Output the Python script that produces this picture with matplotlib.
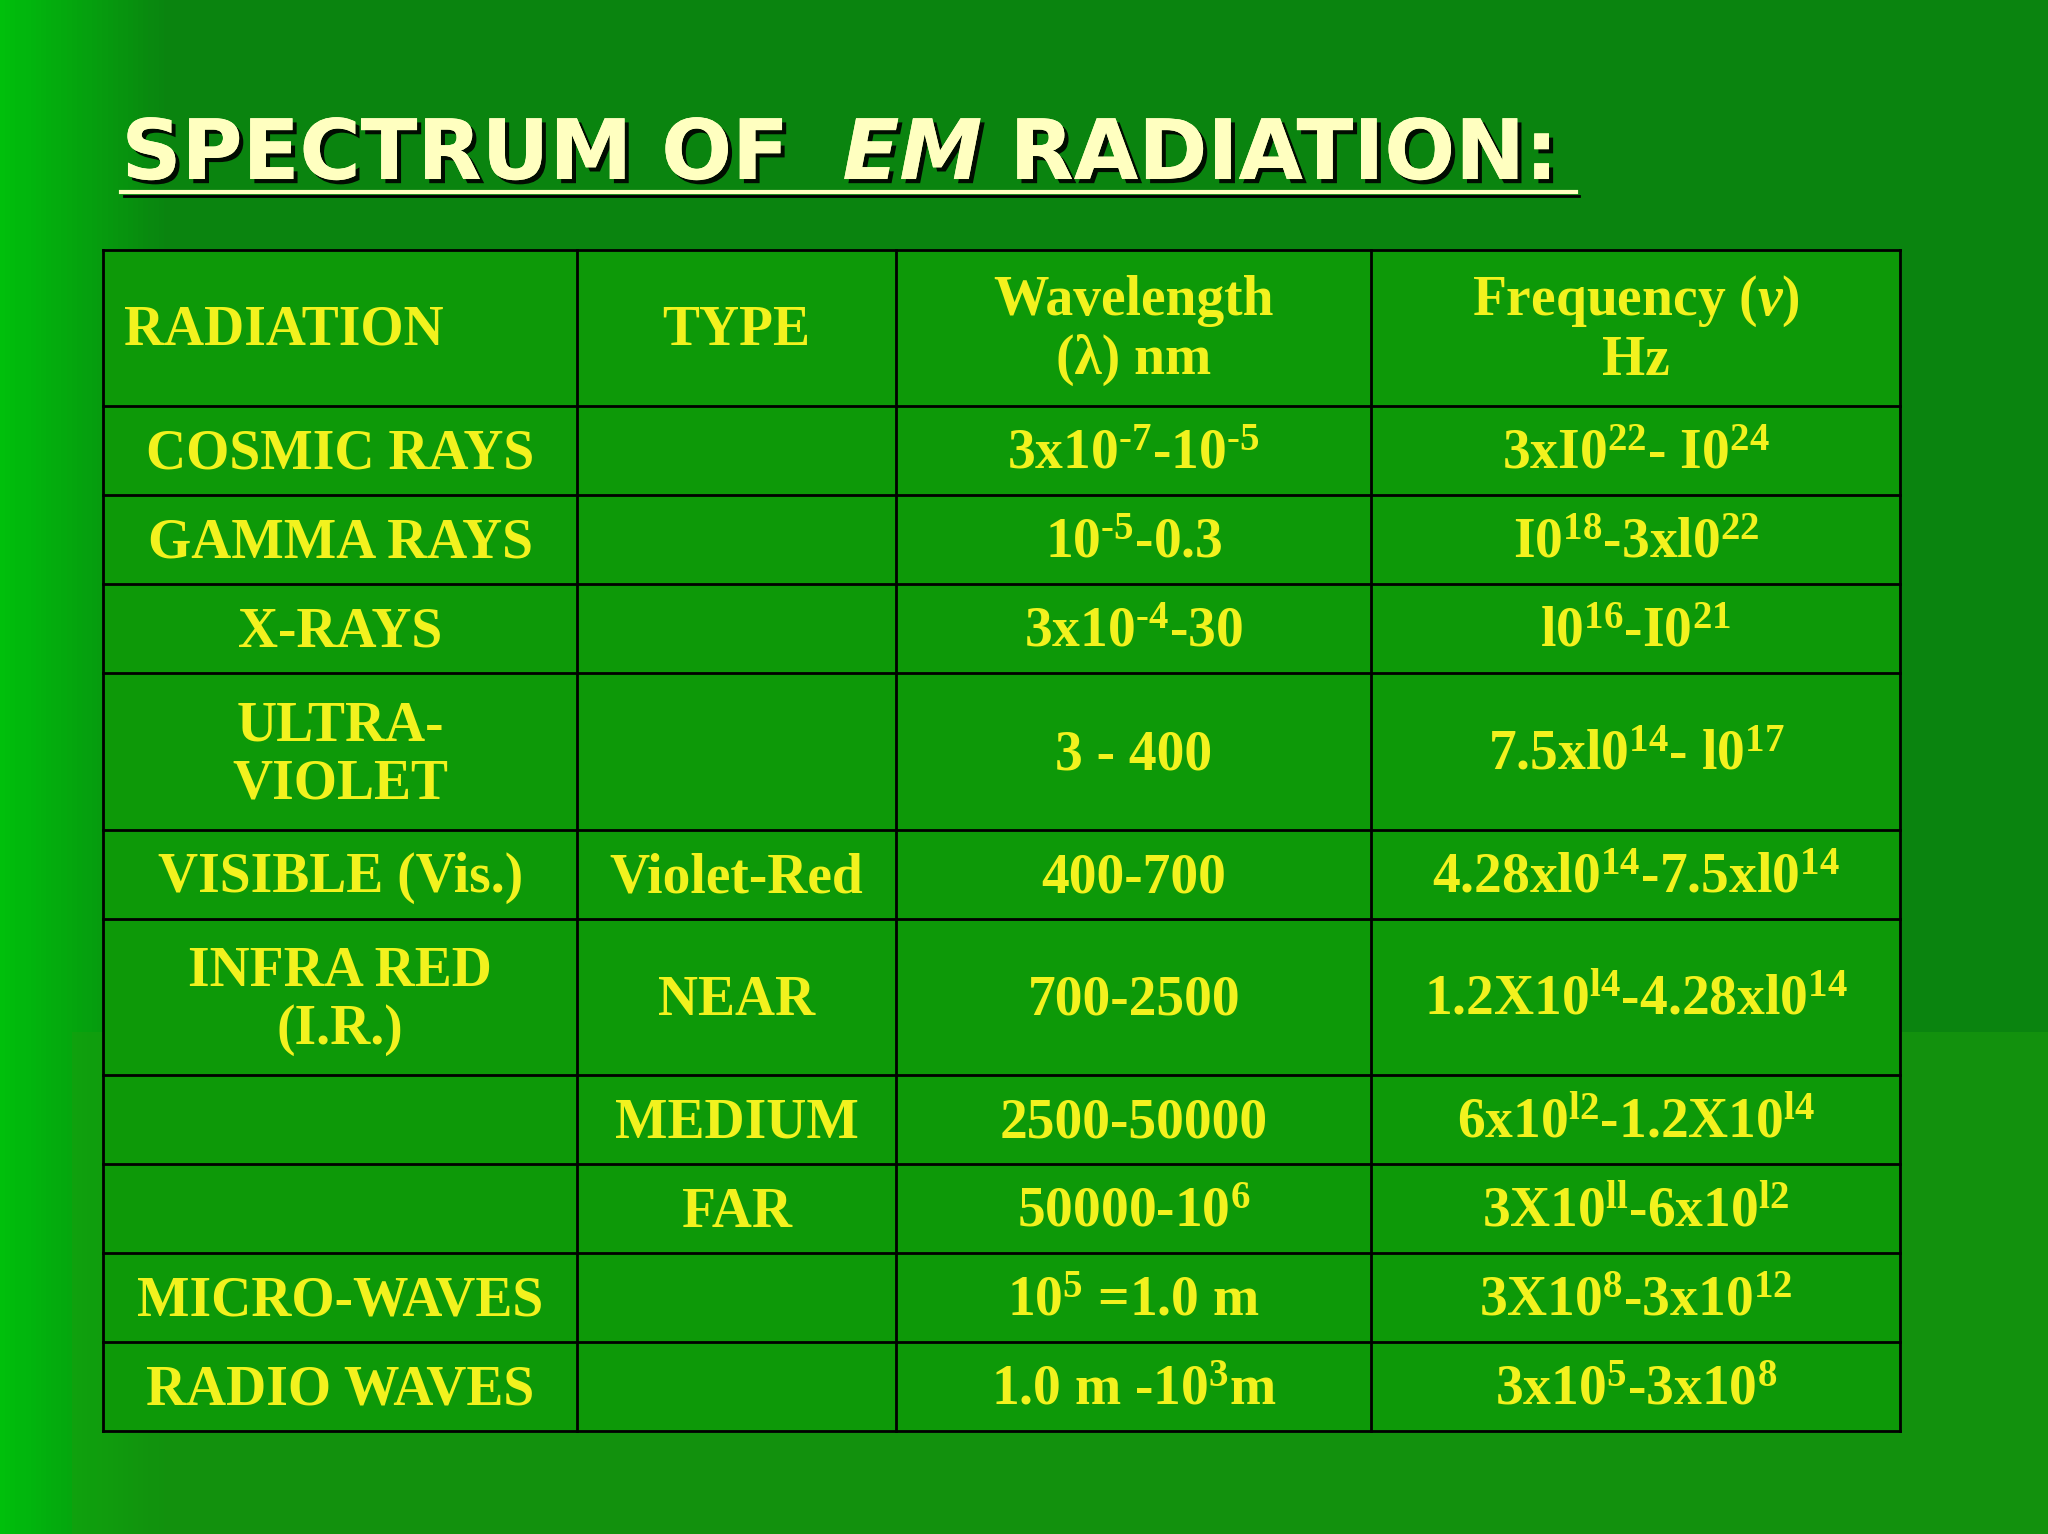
import matplotlib
matplotlib.use("Agg")
import matplotlib.pyplot as plt
import numpy as np
import matplotlib.patheffects as pe

plt.rcParams['mathtext.fontset'] = 'custom'
plt.rcParams['mathtext.rm'] = 'Liberation Serif:bold'
plt.rcParams['mathtext.it'] = 'Liberation Serif:bold:italic'
plt.rcParams['mathtext.bf'] = 'Liberation Serif:bold'

headers = ["RADIATION", "TYPE", "Wavelength\n(λ) nm", "Frequency ($\\it{v}$)\nHz"]
radiation = ["COSMIC RAYS", "GAMMA RAYS", "X-RAYS", "ULTRA-\nVIOLET", "VISIBLE (Vis.)",
             "INFRA RED\n(I.R.)", "", "", "MICRO-WAVES", "RADIO WAVES"]
types = ["", "", "", "", "Violet-Red", "NEAR", "MEDIUM", "FAR", "", ""]
wavelength = [r"3x10$^{\text{-}7}$-10$^{\text{-}5}$", r"10$^{\text{-}5}$-0.3", r"3x10$^{\text{-}4}$-30",
              "3 - 400", "400-700", "700-2500", "2500-50000", "50000-10$^{6}$",
              "10$^{5}$ =1.0 m", "1.0 m -10$^{3}$m"]
frequency = ["3xI0$^{22}$- I0$^{24}$", "I0$^{18}$-3xl0$^{22}$", "l0$^{16}$-I0$^{21}$",
             "7.5xl0$^{14}$- l0$^{17}$", "4.28xl0$^{14}$-7.5xl0$^{14}$",
             r"1.2X10$^{\mathrm{l}4}$-4.28xl0$^{14}$",
             r"6x10$^{\mathrm{l}2}$-1.2X10$^{\mathrm{l}4}$", r"3X10$^{\mathrm{ll}}$-6x10$^{\mathrm{l}2}$",
             "3X10$^{8}$-3x10$^{12}$", "3x10$^{5}$-3x10$^{8}$"]

W, H = 1568, 1174
fig = plt.figure(figsize=(20.48, 15.34), dpi=100)
ax = fig.add_axes([0, 0, 1, 1])
ax.set_xlim(0, W); ax.set_ylim(H, 0); ax.axis('off')

xs = np.linspace(0, 1, 400)
g = np.zeros((10, 400, 3))
left = np.array([0.0, 0.75, 0.05]); right = np.array([0.04, 0.52, 0.06])
t = np.clip(xs / 0.08, 0, 1)[None, :, None]
g[:] = left * (1 - t) + right * t
ax.imshow(g, extent=[0, W, H, 0], aspect='auto', zorder=0)
ax.add_patch(plt.Rectangle((55, 790), W - 55, H - 790, color=(0.1, 0.62, 0.05), alpha=0.5, zorder=0.5, lw=0))

cols = [79, 442, 686, 1050, 1455]
rows = [191, 311, 379, 447, 515, 635, 703, 823, 891, 959, 1027, 1095]
ax.add_patch(plt.Rectangle((79, 191), 1455 - 79, 1095 - 191, color=(0.05, 0.60, 0.03), zorder=1, lw=0))
for x in cols:
    ax.plot([x, x], [rows[0], rows[-1]], color='black', lw=2, zorder=3)
for y in rows:
    ax.plot([cols[0], cols[-1]], [y, y], color='black', lw=2, zorder=3)

yel = '#f2f21e'
fs = 40
kw = dict(color=yel, fontsize=fs, family='Liberation Serif', fontweight='bold',
          va='center', zorder=4, linespacing=1.15)
ax.text(95, (rows[0] + rows[1]) / 2 + 2, headers[0], ha='left', **kw)
for j in range(1, 4):
    ax.text((cols[j] + cols[j + 1]) / 2, (rows[0] + rows[1]) / 2 + 2, headers[j], ha='center', **kw)
for i in range(10):
    yc = (rows[i + 1] + rows[i + 2]) / 2 + 3
    for j, col in enumerate([radiation, types, wavelength, frequency]):
        ax.text((cols[j] + cols[j + 1]) / 2, yc, col[i], ha='center', **kw)

tc = '#ffffc0'
shadow = [pe.withSimplePatchShadow(offset=(3, -3), shadow_rgbFace='black', alpha=0.9), pe.Normal()]
tkw = dict(color=tc, fontsize=60, family='DejaVu Sans', fontweight='bold', va='baseline',
           zorder=5, path_effects=shadow)
ax.text(93, 137, "SPECTRUM OF", **tkw)
ax.text(645, 137, "EM", style='italic', **tkw)
ax.text(773, 137, "RADIATION:", **tkw)
ax.plot([93, 1207], [147, 147], color=tc, lw=3, zorder=5)
ax.plot([95, 1209], [150, 150], color='black', lw=2, zorder=4.9)

fig.savefig("out.png", dpi=100)
